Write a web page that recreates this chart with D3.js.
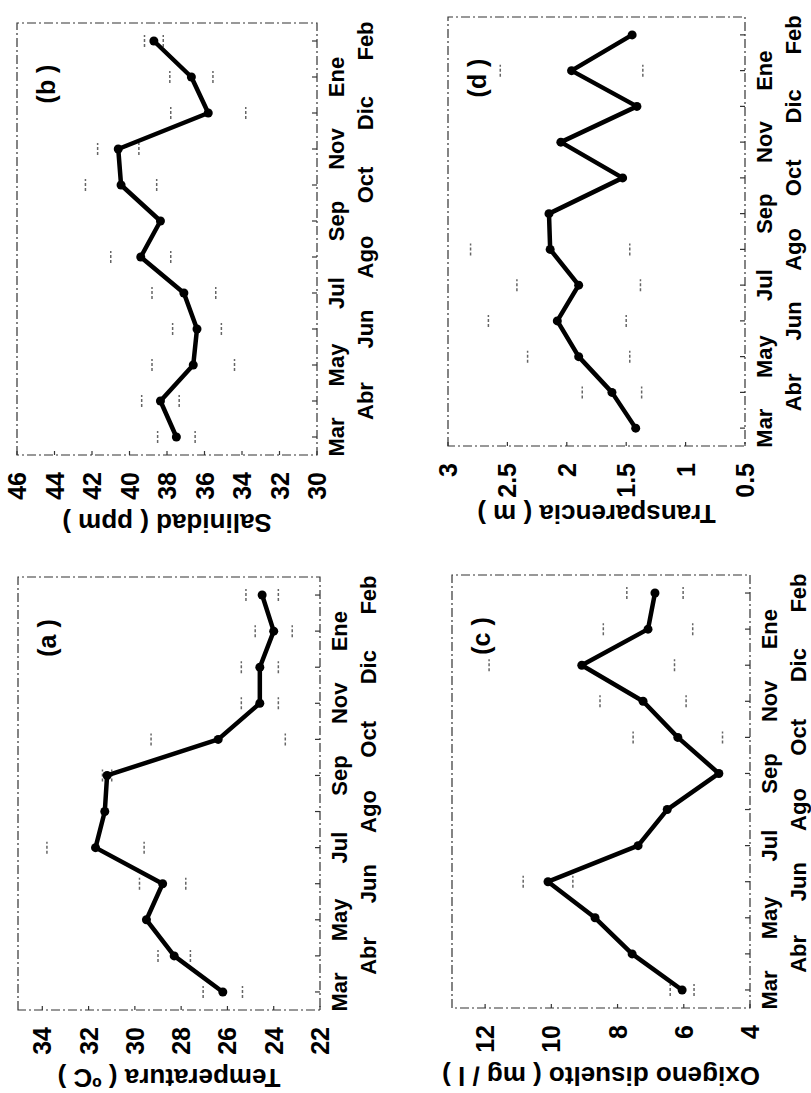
<!DOCTYPE html>
<html><head><meta charset="utf-8">
<script src="https://cdn.jsdelivr.net/npm/d3@7"></script>
<style>body{margin:0;background:#fff}svg{display:block}</style>
</head><body>
<svg id="c" width="811" height="1093"></svg>
<script>
// ---- data ----
const months = ["Mar","Abr","May","Jun","Jul","Ago","Sep","Oct","Nov","Dic","Ene","Feb"];

const temperatura    = [26.2, 28.3, 29.5, 28.8, 31.7, 31.3, 31.2, 26.4, 24.6, 24.6, 24.0, 24.5];
const temperaturaErr = [0.85, 0.7, null, 1.0, 2.1, null, 0.2, 2.9, 0.8, 0.8, 0.8, 0.7];
const temperaturaTicks = [22, 24, 26, 28, 30, 32, 34];

const salinidad    = [37.5, 38.35, 36.6, 36.4, 37.1, 39.4, 38.35, 40.45, 40.6, 35.8, 36.7, 38.7];
const salinidadErr = [1.0, 1.0, 2.2, 1.3, 1.7, 1.6, null, 1.9, 1.1, 2.0, 1.15, 0.5];
const salinidadTicks = [30, 32, 34, 36, 38, 40, 42, 44, 46];

const oxigeno    = [6.05, 7.56, 8.68, 10.1, 7.38, 6.5, 4.94, 6.18, 7.23, 9.08, 7.08, 6.87];
const oxigenoErr = [0.36, null, null, 0.75, null, null, null, 1.35, 1.3, 2.8, 1.35, 0.85];
const oxigenoTicks = [4, 6, 8, 10, 12];

const transparencia    = [1.42, 1.62, 1.90, 2.08, 1.90, 2.14, 2.15, 1.53, 2.05, 1.41, 1.96, 1.45];
const transparenciaErr = [null, 0.25, 0.43, 0.58, 0.52, 0.67, null, null, null, null, 0.6, null];
const transparenciaTicks = [0.5, 1, 1.5, 2, 2.5, 3];

const panelLabels = ["(a )", "(b )", "(c )", "(d )"];
const axisTitles = ["Temperatura ( ºC )", "Salinidad ( ppm )", "Oxigeno disuelto ( mg / l )", "Transparencia ( m )"];

// ---- layout (local, unrotated coordinates) ----
const W = 1093, H = 811;
const panels = [
  {label: panelLabels[0], title: axisTitles[0], values: temperatura, errs: temperaturaErr, ticks: temperaturaTicks,
   domain: [22, 35.05], fmt: d => d, frame: {l: 83, r: 516, t: 18, b: 320}},
  {label: panelLabels[1], title: axisTitles[1], values: salinidad, errs: salinidadErr, ticks: salinidadTicks,
   domain: [30, 46], fmt: d => d, frame: {l: 638, r: 1070, t: 17, b: 317}},
  {label: panelLabels[2], title: axisTitles[2], values: oxigeno, errs: oxigenoErr, ticks: oxigenoTicks,
   domain: [4, 13], fmt: d => d, frame: {l: 85, r: 518, t: 452, b: 750}},
  {label: panelLabels[3], title: axisTitles[3], values: transparencia, errs: transparenciaErr, ticks: transparenciaTicks,
   domain: [0.5, 3], fmt: d => d, frame: {l: 647, r: 1076, t: 448, b: 745}}
];

const FONT = "'Liberation Sans', Arial, Helvetica, sans-serif";
const svg = d3.select("#c");
svg.append("rect").attr("width", 811).attr("height", 1093).attr("fill", "#fff");
const root = svg.append("g").attr("transform", `translate(0,${W}) rotate(-90)`);

panels.forEach(p => {
  const f = p.frame;
  const x = d3.scaleLinear().domain([-0.5, 11.5]).range([f.l, f.r]);
  const y = d3.scaleLinear().domain(p.domain).range([f.b, f.t]);
  const g = root.append("g");

  // frame
  g.append("rect").attr("x", f.l).attr("y", f.t).attr("width", f.r - f.l).attr("height", f.b - f.t)
    .attr("fill", "none").attr("stroke", "#333").attr("stroke-width", 1.2)
    .attr("stroke-dasharray", "9,3,2,3");

  // y axis ticks (inward)
  g.append("g").selectAll("line").data(p.ticks).join("line")
    .attr("x1", f.l).attr("x2", f.l + 4).attr("y1", d => y(d)).attr("y2", d => y(d))
    .attr("stroke", "#333").attr("stroke-width", 1.2);
  // x axis ticks (inward)
  g.append("g").selectAll("line").data(months).join("line")
    .attr("x1", (d, i) => x(i)).attr("x2", (d, i) => x(i)).attr("y1", f.b).attr("y2", f.b - 5)
    .attr("stroke", "#333").attr("stroke-width", 1.2);

  // y tick labels
  g.append("g").selectAll("text").data(p.ticks).join("text")
    .attr("x", f.l - 17).attr("y", d => y(d)).attr("dy", "0.36em")
    .attr("text-anchor", "end").attr("font-family", FONT).attr("font-weight", "bold")
    .attr("font-size", 25).text(p.fmt);

  // month labels (two rows)
  g.append("g").selectAll("text").data(months).join("text")
    .attr("x", (d, i) => x(i)).attr("y", (d, i) => f.b + (i % 2 === 0 ? 27 : 56))
    .attr("text-anchor", "middle").attr("font-family", FONT).attr("font-weight", "bold")
    .attr("font-size", 22).text(d => d);

  // axis title
  g.append("text")
    .attr("transform", `translate(${f.l - 68},${(f.t + f.b) / 2}) rotate(-90)`)
    .attr("text-anchor", "middle").attr("dy", "0.36em")
    .attr("font-family", FONT).attr("font-weight", "bold").attr("font-size", 26)
    .text(p.title);

  // panel label
  g.append("text").attr("x", f.r - 61).attr("y", f.t + 38)
    .attr("text-anchor", "middle").attr("font-family", FONT).attr("font-weight", "bold")
    .attr("font-size", 25).text(p.label);

  // error bar caps (faint)
  const eb = p.values.map((v, i) => ({i, v, e: p.errs[i]})).filter(d => d.e != null);
  const caps = g.append("g").attr("stroke", "#666").attr("stroke-width", 1.5).attr("stroke-dasharray", "3,2");
  eb.forEach(d => {
    [d.v - d.e, d.v + d.e].forEach(val => {
      if (val < p.domain[0] || val > p.domain[1]) return;
      caps.append("line").attr("x1", x(d.i) - 6).attr("x2", x(d.i) + 6)
        .attr("y1", y(val)).attr("y2", y(val));
    });
  });

  // data line
  const line = d3.line().x((d, i) => x(i)).y(d => y(d));
  g.append("path").datum(p.values).attr("d", line).attr("fill", "none")
    .attr("stroke", "#000").attr("stroke-width", 4.5).attr("stroke-linejoin", "round");
  g.append("g").selectAll("circle").data(p.values).join("circle")
    .attr("cx", (d, i) => x(i)).attr("cy", d => y(d)).attr("r", 4.5).attr("fill", "#000");
});
</script>
</body></html>
